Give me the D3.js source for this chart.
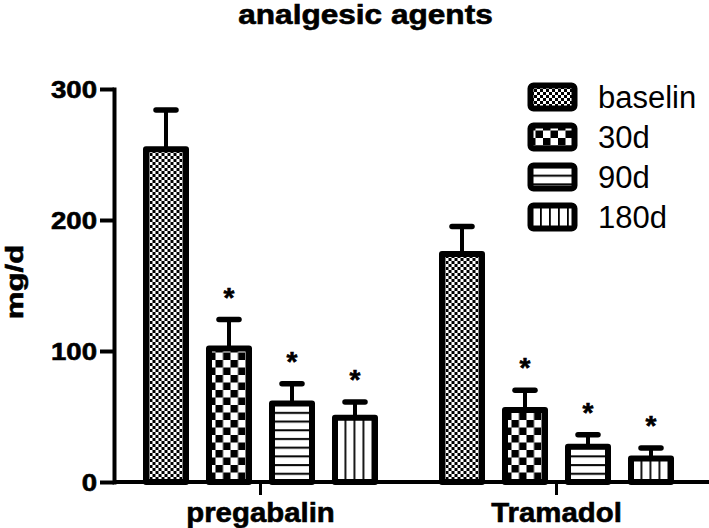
<!DOCTYPE html>
<html>
<head>
<meta charset="utf-8">
<script src="https://cdn.jsdelivr.net/npm/d3@7"></script>
<style>
  html, body { margin: 0; padding: 0; background: #fff; }
  svg { display: block; }
  text { font-family: Arial, "Liberation Sans", Helvetica, sans-serif; fill: #000; }
  .heavy { stroke: #000; stroke-width: 0.6px; paint-order: stroke fill; }
</style>
</head>
<body>
<script>
// ---- data ----
const categories = ["pregabalin", "Tramadol"];
const series = ["baselin", "30d", "90d", "180d"];
const pregabalinMeans = [254, 102, 60, 49];
const pregabalinErrors = [30, 22, 15, 12];
const pregabalinStars = [false, true, true, true];
const tramadolMeans = [174, 55, 27, 18];
const tramadolErrors = [21, 15, 9, 8];
const tramadolStars = [false, true, true, true];
const yTicks = [0, 100, 200, 300];
const titleText = "analgesic agents";
const yLabel = "mg/d";

const rows = [
  { cat: categories[0], means: pregabalinMeans, errs: pregabalinErrors, stars: pregabalinStars },
  { cat: categories[1], means: tramadolMeans, errs: tramadolErrors, stars: tramadolStars }
];

// ---- layout ----
const W = 709, H = 528;
const svg = d3.select("body").append("svg").attr("width", W).attr("height", H);

const defs = svg.append("defs");
const p0 = defs.append("pattern").attr("id", "pat0").attr("patternUnits", "userSpaceOnUse")
  .attr("width", 6).attr("height", 6);
p0.append("rect").attr("width", 6).attr("height", 6).attr("fill", "#fff");
p0.append("rect").attr("width", 3).attr("height", 3).attr("fill", "#000");
p0.append("rect").attr("x", 3).attr("y", 3).attr("width", 3).attr("height", 3).attr("fill", "#000");
const p1 = defs.append("pattern").attr("id", "pat1").attr("patternUnits", "userSpaceOnUse")
  .attr("width", 15).attr("height", 15);
p1.append("rect").attr("width", 15).attr("height", 15).attr("fill", "#fff");
p1.append("rect").attr("width", 7.5).attr("height", 7.5).attr("fill", "#000");
p1.append("rect").attr("x", 7.5).attr("y", 7.5).attr("width", 7.5).attr("height", 7.5).attr("fill", "#000");
const p2 = defs.append("pattern").attr("id", "pat2").attr("patternUnits", "userSpaceOnUse")
  .attr("width", 10).attr("height", 8.7);
p2.append("rect").attr("width", 10).attr("height", 8.7).attr("fill", "#fff");
p2.append("rect").attr("y", 3).attr("width", 10).attr("height", 2).attr("fill", "#000");
const p3 = defs.append("pattern").attr("id", "pat3").attr("patternUnits", "userSpaceOnUse")
  .attr("width", 9).attr("height", 10);
p3.append("rect").attr("width", 9).attr("height", 10).attr("fill", "#fff");
p3.append("rect").attr("x", 3).attr("width", 1.8).attr("height", 10).attr("fill", "#000");

const fillFor = d3.scaleOrdinal().domain(series).range(["url(#pat0)", "url(#pat1)", "url(#pat2)", "url(#pat3)"]);

const yAxisX = 114;
const y = d3.scaleLinear().domain([0, 300]).range([482, 89]);
const x0 = d3.scaleBand().domain(categories).range([112.5, 704.5]).padding(0);
const x1 = d3.scaleBand().domain(series).range([-126, 126]).padding(0);
const barW = 40;
const sw = 6;

// ---- title ----
svg.append("g").attr("transform", "translate(365.5,0) scale(1.17,1)")
  .append("text").attr("class", "heavy")
  .attr("x", 0).attr("y", 24)
  .attr("text-anchor", "middle").attr("font-weight", "bold").attr("font-size", 27)
  .text(titleText);

// ---- y axis ----
const yAxis = svg.append("g").attr("transform", `translate(${yAxisX},0)`)
  .call(d3.axisLeft(y).tickValues(yTicks).tickSize(14).tickSizeOuter(0).tickPadding(3));
yAxis.select(".domain").attr("stroke", "#000").attr("stroke-width", 4).attr("stroke-linecap", "square");
yAxis.selectAll(".tick line").attr("stroke", "#000").attr("stroke-width", 4);
yAxis.selectAll(".tick text")
  .attr("class", "heavy")
  .attr("font-family", "Arial, 'Liberation Sans', sans-serif")
  .attr("font-weight", "bold").attr("font-size", 24)
  .attr("x", 0).attr("dy", "0.34em")
  .attr("transform", "translate(-17,0) scale(1.15,1)");

// y label
svg.append("text").attr("class", "heavy")
  .attr("transform", "translate(23,282) rotate(-90) scale(1.3,1)")
  .attr("text-anchor", "middle").attr("font-weight", "bold").attr("font-size", 24)
  .text(yLabel);

// ---- bars ----
const groups = svg.selectAll("g.grp").data(rows).join("g").attr("class", "grp")
  .attr("transform", d => `translate(${x0(d.cat) + x0.bandwidth() / 2},0)`);

const items = groups.selectAll("g.item")
  .data(d => series.map((s, i) => ({ s, v: d.means[i], e: d.errs[i], star: d.stars[i] })))
  .join("g").attr("class", "item");

items.append("line")
  .attr("x1", d => x1(d.s) + x1.bandwidth() / 2).attr("x2", d => x1(d.s) + x1.bandwidth() / 2)
  .attr("y1", d => y(d.v)).attr("y2", d => y(d.v + d.e))
  .attr("stroke", "#000").attr("stroke-width", 4);
items.append("line")
  .attr("x1", d => x1(d.s) + x1.bandwidth() / 2 - 10).attr("x2", d => x1(d.s) + x1.bandwidth() / 2 + 10)
  .attr("y1", d => y(d.v + d.e)).attr("y2", d => y(d.v + d.e))
  .attr("stroke", "#000").attr("stroke-width", 5.5).attr("stroke-linecap", "round");

items.append("rect")
  .attr("x", d => x1(d.s) + (x1.bandwidth() - barW) / 2)
  .attr("width", barW)
  .attr("y", d => y(d.v))
  .attr("height", d => y(0) - y(d.v))
  .attr("fill", d => fillFor(d.s))
  .attr("stroke", "#000").attr("stroke-width", sw).attr("stroke-linejoin", "round");

items.filter(d => d.star).append("text").attr("class", "heavy")
  .attr("x", d => x1(d.s) + x1.bandwidth() / 2)
  .attr("y", d => y(d.v + d.e) - 13)
  .attr("text-anchor", "middle").attr("font-weight", "bold").attr("font-size", 28)
  .text("*");

// ---- x axis ----
svg.append("line").attr("x1", yAxisX).attr("x2", W).attr("y1", y(0)).attr("y2", y(0))
  .attr("stroke", "#000").attr("stroke-width", 4);
const xAxis = svg.append("g").attr("transform", `translate(0,${y(0)})`)
  .call(d3.axisBottom(x0).tickSize(13).tickSizeOuter(0).tickPadding(8));
xAxis.select(".domain").remove();
xAxis.selectAll(".tick line").attr("stroke", "#000").attr("stroke-width", 3);
xAxis.selectAll(".tick text")
  .attr("class", "heavy")
  .attr("font-family", "Arial, 'Liberation Sans', sans-serif")
  .attr("font-weight", "bold").attr("font-size", 28)
  .attr("y", 0).attr("dy", 0)
  .attr("transform", "translate(0,40) scale(1.05,1)");

// ---- legend ----
const legend = svg.append("g").attr("transform", "translate(528,83)");
const leg = legend.selectAll("g").data(series).join("g")
  .attr("transform", (d, i) => `translate(0,${i * 40})`);
leg.append("rect").attr("x", 2.5).attr("y", 2.5).attr("width", 44).attr("height", 23).attr("rx", 3)
  .attr("fill", d => fillFor(d)).attr("stroke", "#000").attr("stroke-width", 6);
leg.append("text").attr("x", 70).attr("y", 25)
  .attr("font-size", 31).text(d => d);
</script>
</body>
</html>
